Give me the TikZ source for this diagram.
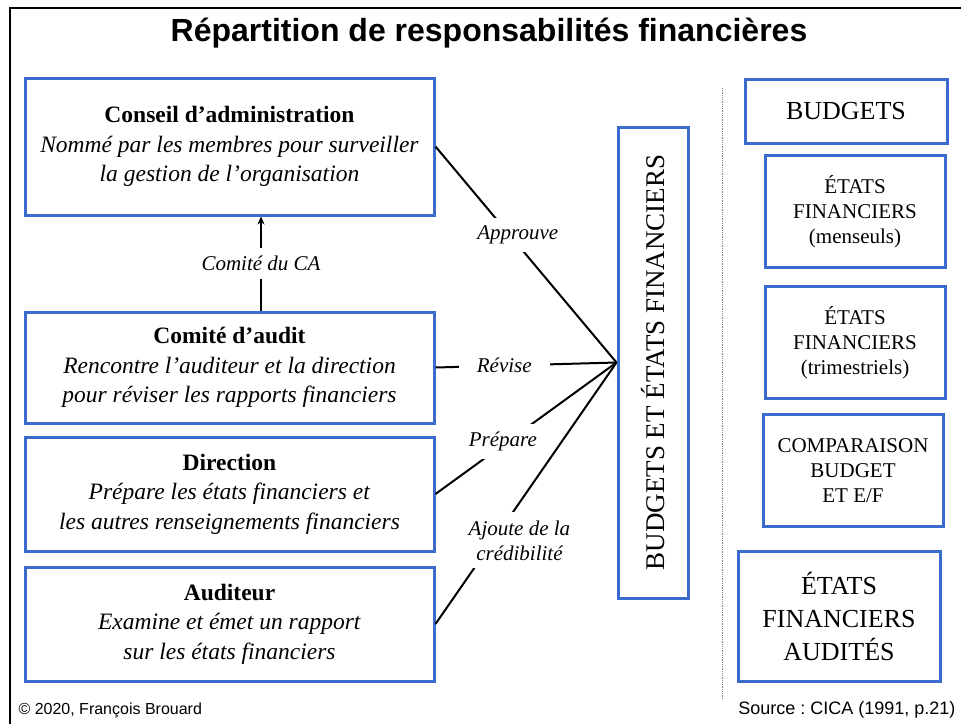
\documentclass[tikz,border=0pt]{standalone}
\usepackage{fontspec}
\setmainfont{Liberation Serif}
\setsansfont{Liberation Sans}
\usetikzlibrary{arrows.meta}
\definecolor{boxblue}{RGB}{59,107,205}

\begin{document}
\begin{tikzpicture}[x=1pt,y=-1pt,
  box/.style={draw=boxblue, line width=3pt, align=center, inner sep=0pt},
  role/.style={box, minimum width=409pt, font=\fontsize{23.5}{29.5}\selectfont},
  doc/.style={box, minimum width=180pt, minimum height=112pt, font=\fontsize{21}{25}\selectfont},
  bigdoc/.style={box, minimum width=202pt, font=\fontsize{26}{33}\selectfont},
  verb/.style={fill=white, inner xsep=18pt, inner ysep=8pt, align=center, font=\fontsize{21}{25}\selectfont\itshape},
  link/.style={line width=2pt}]
\useasboundingbox (0,0) rectangle (961,724);
% frame and title
\draw[line width=2.5pt] (10,724) -- (10,8) -- (961,8);
\node[font=\sffamily\bfseries\fontsize{32}{38}\selectfont] (titre) at (489,33) {Répartition de responsabilités financières};

% left: who does what
\node[role, minimum height=137pt] (ca) at (229.5,146.5)
  {\textbf{Conseil d’administration}\\ \textit{Nommé par les membres pour surveiller}\\ \textit{la gestion de l’organisation}};
\node[role, minimum height=111pt] (comite) at (229.5,367.5)
  {\textbf{Comité d’audit}\\ \textit{Rencontre l’auditeur et la direction}\\ \textit{pour réviser les rapports financiers}};
\node[role, minimum height=114pt] (direction) at (229.5,494)
  {\textbf{Direction}\\ \textit{Prépare les états financiers et}\\ \textit{les autres renseignements financiers}};
\node[role, minimum height=114pt] (auditeur) at (229.5,624)
  {\textbf{Auditeur}\\ \textit{Examine et émet un rapport}\\ \textit{sur les états financiers}};

\draw[link,-{Stealth[length=8pt,width=7pt]}] ([xshift=31.5pt]comite.north) --
  node[verb, inner xsep=3pt] (comiteca) {Comité du CA} ([xshift=31.5pt]ca.south);

% middle
\node[box, rotate=90, minimum width=471pt, minimum height=70pt, font=\fontsize{27}{32}\selectfont] (ef) at (653,362.5)
  {BUDGETS ET ÉTATS FINANCIERS};

\draw[link] (ca.east) -- node[verb, pos=0.41, xshift=8pt] (approuve) {Approuve} (ef.north);
\draw[link] (comite.east) -- node[verb, pos=0.38] (revise) {Révise} (ef.north);
\draw[link] (direction.east) -- node[verb, pos=0.40, xshift=-5pt] (prepare) {Prépare} (ef.north);
\draw[link] (auditeur.east) -- node[verb, pos=0.32, xshift=26pt, inner xsep=3pt] (ajoute) {Ajoute de la\\ crédibilité} (ef.north);

% right: the documents
\draw[gray, line width=0.8pt, densely dotted] (722,88) -- (722,700);
\node[bigdoc, minimum height=64pt] (budgets) at (846,111) {BUDGETS};
\node[doc] (mensuels) at (855,211.5) {ÉTATS\\ FINANCIERS\\ (menseuls)};
\node[doc] (trimestriels) at (855,342.5) {ÉTATS\\ FINANCIERS\\ (trimestriels)};
\node[doc] (comparaison) at (853,470.5) {COMPARAISON\\ BUDGET\\ ET E/F};
\node[bigdoc, minimum height=130pt] (audites) at (839,616) {ÉTATS\\ FINANCIERS\\ AUDITÉS};

% footer
\node[anchor=west, font=\sffamily\fontsize{16}{19}\selectfont] (auteur) at (15,710) {© 2020, François Brouard};
\node[anchor=east, font=\sffamily\fontsize{18}{21}\selectfont\frenchspacing] (source) at (959,710) {Source : CICA (1991, p.21)};
\end{tikzpicture}
\end{document}
